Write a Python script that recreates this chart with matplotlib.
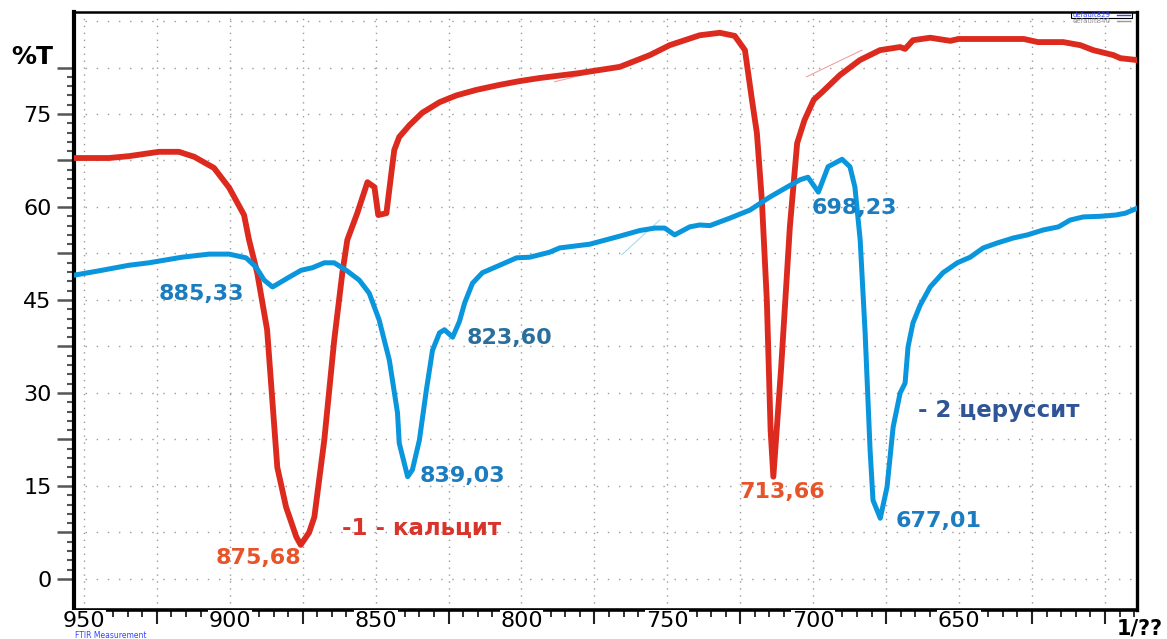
import matplotlib
matplotlib.use("Agg")
import matplotlib.pyplot as plt
import numpy as np
from matplotlib.ticker import MultipleLocator, FixedLocator, FuncFormatter
from matplotlib.transforms import blended_transform_factory

# wavenumber (1/cm) and %T for the two samples
wn_calcite = [953.4, 941.4, 934.6, 924.3, 917.4, 912.2, 905.4, 900.2, 895.1, 893.4,
              890.6, 887.2, 883.7, 880.7, 877.2, 875.68, 872.8, 871.0, 867.6, 864.2,
              861.4, 859.7, 856.3, 852.8, 850.4, 849.1, 846.3, 844.6, 843.6, 841.9,
              838.4, 834.0, 828.1, 822.3, 815.4, 807.5, 800.7, 793.8, 780.1, 766.3,
              756.0, 749.2, 738.9, 732.0, 726.9, 723.4, 721.0, 719.3, 717.6, 715.9,
              714.6, 713.66, 711.0, 708.0, 705.5, 703.0, 699.8, 697.0, 690.8, 684.0,
              677.1, 670.2, 668.5, 665.8, 659.9, 653.0, 650.2, 627.8, 623.0, 614.3,
              608.4, 604.0, 597.1, 594.7, 589.0]
t_calcite = [67.9, 67.9, 68.2, 68.9, 68.9, 68.1, 66.3, 63.1, 58.7, 54.7,
             49.4, 40.2, 18.0, 11.6, 6.8, 5.5, 7.5, 10.0, 22.4, 38.5,
             49.4, 54.7, 59.0, 64.0, 63.2, 58.7, 59.0, 65.5, 69.2, 71.3,
             73.2, 75.2, 76.9, 78.0, 78.9, 79.7, 80.3, 80.8, 81.6, 82.6,
             84.5, 86.1, 87.7, 88.1, 87.6, 85.3, 77.3, 71.9, 61.1, 45.0,
             24.0, 16.5, 34.0, 56.8, 70.3, 74.0, 77.3, 78.5, 81.3, 83.7,
             85.3, 85.8, 85.5, 86.9, 87.3, 86.8, 87.1, 87.1, 86.6, 86.6,
             86.1, 85.3, 84.5, 84.0, 83.7]

wn_cerussite = [953.4, 944.9, 934.6, 927.7, 916.4, 907.1, 900.2, 894.4, 891.0, 888.2,
                885.33, 879.6, 875.5, 871.7, 867.6, 864.2, 860.1, 855.6, 852.2, 848.8,
                845.3, 842.5, 841.9, 839.03, 837.4, 835.0, 832.6, 830.5, 828.1, 826.4,
                823.6, 821.3, 819.5, 816.8, 813.4, 807.5, 801.7, 797.2, 790.4, 786.9,
                776.6, 766.3, 759.5, 754.3, 750.9, 747.5, 742.3, 738.9, 735.4, 728.6,
                721.7, 714.9, 709.0, 704.5, 701.8, 698.23, 694.9, 690.1, 687.4, 685.7,
                683.9, 682.2, 680.5, 679.5, 677.01, 674.7, 672.6, 670.2, 668.5, 667.5,
                665.8, 663.3, 659.9, 655.5, 650.6, 646.2, 641.7, 636.9, 631.4, 626.6,
                621.1, 615.9, 611.9, 607.4, 601.6, 596.4, 593.0, 589.0]
t_cerussite = [49.0, 49.7, 50.6, 51.0, 51.9, 52.4, 52.4, 51.8, 50.3, 48.2,
               47.1, 48.7, 49.8, 50.2, 51.0, 51.0, 49.8, 48.2, 46.1, 41.8,
               35.3, 26.8, 21.9, 16.5, 17.6, 22.4, 30.5, 36.9, 39.7, 40.2,
               39.0, 41.5, 44.5, 47.7, 49.4, 50.6, 51.8, 51.9, 52.7, 53.4,
               54.0, 55.3, 56.2, 56.6, 56.6, 55.5, 56.8, 57.1, 57.0, 58.2,
               59.5, 61.6, 63.2, 64.4, 64.8, 62.4, 66.5, 67.7, 66.5, 63.2,
               54.7, 39.7, 20.8, 12.7, 9.8, 14.8, 24.5, 30.0, 31.6, 37.4,
               41.3, 44.2, 47.1, 49.4, 51.0, 51.9, 53.4, 54.2, 55.0, 55.5,
               56.3, 56.8, 57.9, 58.4, 58.5, 58.7, 59.0, 59.8]

# peak labels: (text, x, y, colour)
peak_labels = [
    ("885,33", 924.3, 46.0, "#1b7cc0"),
    ("839,03", 835.0, 16.6, "#1b7cc0"),
    ("823,60", 818.8, 38.9, "#2a6f9c"),
    ("698,23", 700.4, 59.8, "#1b7cc0"),
    ("677,01", 671.9, 9.4, "#1b7cc0"),
    ("875,68", 904.7, 3.4, "#e8542a"),
    ("713,66", 725.2, 14.0, "#e8542a"),
]
xtick_vals = [950, 900, 850, 800, 750, 700, 650]

fig = plt.figure(figsize=(11.67, 6.39), dpi=100)
ax = fig.add_axes([0.0634, 0.0454, 0.9109, 0.9358])

ax.plot(wn_calcite, t_calcite, color="#dc2a1f", lw=4.2, solid_joinstyle="round", zorder=4)
ax.plot(wn_cerussite, t_cerussite, color="#0a96dc", lw=3.6, solid_joinstyle="round", zorder=5)

# faint baseline helpers
ax.plot([702.3, 683.3], [81.0, 85.3], color="#f0a0a0", lw=0.8, zorder=3)
ax.plot([788.6, 776.6], [80.2, 81.6], color="#f0a0a0", lw=0.8, zorder=3)
ax.plot([765.6, 752.6], [52.3, 57.9], color="#a8dcf0", lw=0.8, zorder=3)

ax.set_xlim(953.4, 589.0)
ax.set_ylim(-5.0, 91.45)

# x axis: grid every 25, small ticks every 5, labels drawn as texts below
ax.xaxis.set_major_locator(MultipleLocator(25))
ax.xaxis.set_minor_locator(MultipleLocator(5))
ax.xaxis.set_major_formatter(FuncFormatter(lambda v, p: ""))
ax.tick_params(axis="x", which="major", length=10, width=1.5, color="#222222", direction="out")
ax.tick_params(axis="x", which="minor", length=5, width=1.3, color="#222222", direction="out")

# y axis: long ticks every 7.5, labels every 15, small ticks every 1.5, none above 82.5
ax.yaxis.set_major_locator(FixedLocator(np.arange(0, 82.6, 7.5)))
ax.yaxis.set_minor_locator(FixedLocator(np.arange(0, 82.6, 1.5)))
ax.yaxis.set_major_formatter(FuncFormatter(
    lambda v, p: "%d" % round(v)
    if abs(v / 15 - round(v / 15)) < 1e-6 and 0 <= v <= 75 else ""))
ax.tick_params(axis="y", which="major", length=12, width=1.8, color="#555555",
               direction="out", pad=4, labelsize=16)
ax.tick_params(axis="y", which="minor", length=5, width=1.5, color="#555555", direction="out")

# horizontal dotted grid also at 90
for gy in [90.0]:
    ax.axhline(gy, color="#9a9a9a", lw=1.0, linestyle=(0, (1, 7)), zorder=0.5)

ax.xaxis.grid(True, which="major", color="#9a9a9a", lw=1.0, linestyle=(0, (1, 4)))
ax.yaxis.grid(True, which="major", color="#9a9a9a", lw=1.0, linestyle=(0, (1, 7)))
ax.set_axisbelow(True)

for side, w in [("left", 3.0), ("bottom", 2.6), ("top", 1.8), ("right", 2.4)]:
    ax.spines[side].set_linewidth(w)
    ax.spines[side].set_color("black")

tr = blended_transform_factory(ax.transData, ax.transAxes)
for v in xtick_vals:
    ax.text(v, -0.018, str(v), transform=tr, ha="center", va="center", fontsize=16,
            clip_on=False, zorder=6,
            bbox=dict(facecolor="white", edgecolor="none", pad=0.5))

for txt, x, y, c in peak_labels:
    ax.text(x, y, txt, color=c, fontsize=16, fontweight="bold", ha="left", va="center", zorder=7)

ax.text(861.4, 8.2, "-1 - кальцит", color="#d9342b", fontsize=16.5, fontweight="bold",
        ha="left", va="center", zorder=7)
ax.text(664.0, 27.1, "- 2 церуссит", color="#2f5597", fontsize=16.5, fontweight="bold",
        ha="left", va="center", zorder=7)

fig.text(0.010, 1 - 57 / 639, "%T", fontsize=18, fontweight="bold", ha="left", va="center")
fig.text(0.957, 1 - 628 / 639, "1/??", fontsize=15, fontweight="bold", ha="left", va="center")
fig.text(0.064, 1 - 635 / 639, "FTIR Measurement", fontsize=5.5, color="#3344ff",
         ha="left", va="center")

# small legend box in the corner
fig.patches.append(plt.Rectangle((1071 / 1167, 1 - 18 / 639), 61 / 1167, 6 / 639,
                                 transform=fig.transFigure, fill=False, lw=0.8,
                                 edgecolor="black"))
fig.text(1073 / 1167, 1 - 15 / 639, "default829", fontsize=5, color="#3344ff", va="center")
fig.text(1073 / 1167, 1 - 21 / 639, "default840", fontsize=5, color="#999999", va="center")
fig.lines.append(plt.Line2D([1117 / 1167, 1130 / 1167], [1 - 15 / 639] * 2,
                            transform=fig.transFigure, color="#3344ff", lw=1))
fig.lines.append(plt.Line2D([1117 / 1167, 1130 / 1167], [1 - 21 / 639] * 2,
                            transform=fig.transFigure, color="#999999", lw=1))

fig.savefig("out.png", dpi=100)
